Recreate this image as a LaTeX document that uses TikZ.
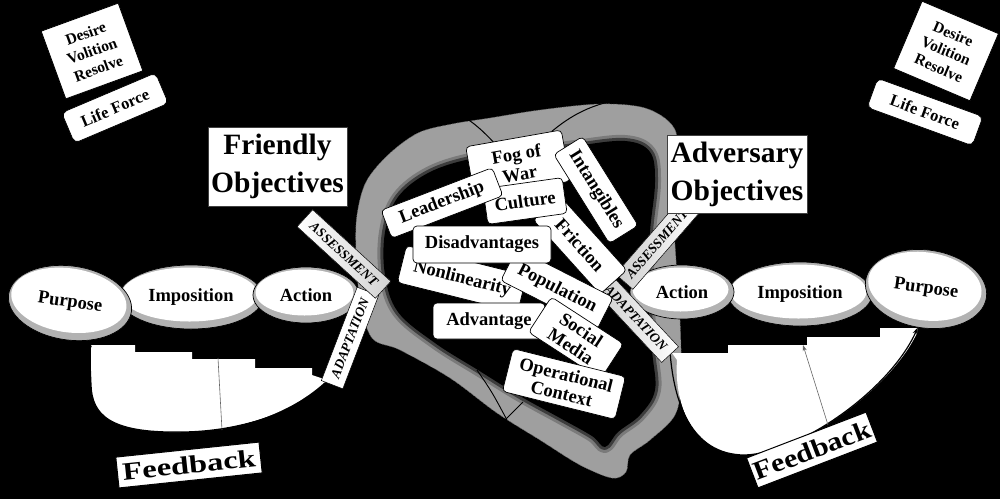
\documentclass[tikz,border=0pt]{standalone}
\usepackage{fontspec}
\setmainfont{Liberation Serif}
\usetikzlibrary{shapes.geometric,arrows.meta}

\newcommand\EllBack[5]{%
  \fill[gray!60, rotate around={#5:(#1,#2)}] (#1,#2) ellipse [x radius=#3, y radius=#4];
  \fill[white, rotate around={#5:(#1,#2)}] (#1-1.5,#2-2.5) ellipse [x radius=#3-4, y radius=#4-5];}

\newcommand\OuterBlob[1]{\path[#1] plot[smooth cycle, tension=0.55] coordinates {(357,215) (366,182) (388,155) (418,133) (452,124) (490,118) (540,110) (600,104) (645,108) (672,125) (678,150) (673,200) (676,260) (680,320) (681,380) (675,415) (650,440) (630,455) (626,472) (612,478) (580,465) (540,440) (497,413) (450,378) (400,350) (372,338) (360,300) (356,250)};}

\newcommand\InnerBlob[1]{\path[#1] plot[smooth cycle, tension=0.6] coordinates {(385,232) (398,197) (430,172) (475,158) (525,153) (575,146) (625,141) (650,152) (655,182) (650,232) (648,290) (652,350) (655,390) (640,415) (618,432) (605,447) (592,436) (560,418) (520,396) (478,370) (435,343) (398,312) (385,275)};}

\begin{document}
\begin{tikzpicture}[x=1pt,y=-1pt,
  cbox/.style={draw=black, line width=0.7pt, fill=white, rounded corners=4pt, inner sep=0pt, align=center, font=\fontsize{18.5}{19.5}\selectfont\bfseries},
  sqbox/.style={draw=black, line width=0.8pt, fill=white, inner sep=0pt, align=center},
  strip/.style={draw=black, line width=0.5pt, fill=white, inner sep=0pt, minimum height=23pt, font=\fontsize{13.5}{14}\selectfont\bfseries\itshape},
  ellnode/.style={ellipse, draw=black, line width=0.7pt, inner sep=0pt, font=\fontsize{18.5}{19}\selectfont\bfseries},
  fbline/.style={draw=black, line width=1.2pt},
  thinline/.style={draw=black!60, line width=0.6pt},
  objfont/.style={font=\fontsize{29.5}{38}\selectfont\bfseries},
]
\fill[black] (0,0) rectangle (1000,499);
\useasboundingbox (0,0) rectangle (1000,499);

% central blob
\OuterBlob{fill=gray!75}
\InnerBlob{draw=black!52, line width=12pt, line join=round}
\InnerBlob{draw=black!76, line width=6pt, line join=round}
\InnerBlob{fill=black}
\OuterBlob{draw=black!60, line width=0.5pt, dash pattern=on 1.5pt off 1pt}
\draw[black, line width=1pt] (458,112) .. controls (480,128) .. (503,152);
\draw[black, line width=1pt] (540,142) .. controls (565,118) and (585,108) .. (608,102);
\draw[black, line width=0.9pt] (477,370) .. controls (492,392) .. (507,420);
\draw[black, line width=0.8pt] (523,402) -- (505,420);

% feedback white regions
\fill[white] (91,345) -| (135,352) -| (192,359) -| (255,368) -| (312,375) -- (327,380)
  .. controls (290,415) and (235,432) .. (180,432) .. controls (110,433) and (92,415) .. (91,385) -- cycle;
\fill[white] (918,328) -| (880,337) -| (807,345) -| (728,353) -- (672,353) -- (677,360)
  .. controls (674,400) and (690,455) .. (745,455) .. controls (800,453) and (890,390) .. (917,333) -- cycle;

% left ellipses
\EllBack{191}{297}{72}{32}{0}
\node[ellnode, minimum width=144pt, minimum height=64pt] (impL) at (191,297) {Imposition};
\EllBack{70}{303}{62}{37}{-8}
\node[ellnode, minimum width=124pt, minimum height=74pt, rotate=-8] (purL) at (70,303) {Purpose};
\EllBack{306}{295}{53}{28}{0}
\node[ellnode, minimum width=106pt, minimum height=56pt] (actL) at (306,295) {Action};

% right ellipses
\EllBack{800}{294}{72}{32}{0}
\node[ellnode, minimum width=144pt, minimum height=64pt] (impR) at (800,294) {Imposition};
\EllBack{682}{292}{52}{27}{0}
\node[ellnode, minimum width=104pt, minimum height=54pt] (actR) at (682,292) {Action};
\EllBack{926}{289}{61}{39}{-8}
\node[ellnode, minimum width=122pt, minimum height=78pt, rotate=-8] (purR) at (926,289) {Purpose};

% strips
\node[strip, minimum width=100pt, rotate=69] (adL) at (350,338) {ADAPTATION};
\node[strip, left color=white, right color=gray!35, minimum width=106pt, rotate=-42.5] (asL) at (344,254) {ASSESSMENT};
\node[strip, left color=gray!40, right color=white, minimum width=100pt, rotate=-47] (adR) at (636,318) {ADAPTATION};
\node[strip, left color=gray!40, right color=white, minimum width=100pt, rotate=49] (asR) at (657,244) {ASSESSMENT};

% feedback connectors
\draw[fbline, -{Stealth[length=7pt,width=5pt]}] (adL.west) .. controls (290,415) and (235,432) .. (180,432)
  .. controls (110,433) and (92,415) .. (91,385) -- (purL.-55);
\draw[fbline, -{Stealth[length=7pt,width=5pt]}] (adR.east) .. controls (674,400) and (690,455) .. (745,455)
  .. controls (800,453) and (890,390) .. (purR.-94);
\coordinate (fbLtop) at (218,358);
\coordinate (fbLbot) at (222,430);
\draw[thinline] (fbLtop) -- (fbLbot);
\coordinate (fbRbot) at (828,425);
\coordinate (fbRtop) at (803,345);
\draw[thinline, -{Stealth[length=6pt,width=4pt]}] (fbRbot) -- (fbRtop);

% objectives
\node[sqbox, objfont, draw=black!75, minimum width=139pt, minimum height=79pt] (frObj) at (277.5,166.5)
  {Friendly\\Objectives};
\node[sqbox, objfont, draw=black!75, minimum width=140pt, minimum height=78pt] (advObj) at (737,174)
  {Adversary\\Objectives};

% central boxes
\node[cbox, minimum width=97pt, minimum height=52pt, rotate=10, font=\fontsize{18.5}{20}\selectfont\bfseries] (fog) at (518,164) {Fog of\\War};
\node[cbox, minimum width=100pt, minimum height=36pt, rotate=-48] (fric) at (580,245) {Friction};
\node[cbox, minimum width=105pt, minimum height=34pt, rotate=-58] (intang) at (596,190) {Intangibles};
\node[cbox, minimum width=80pt, minimum height=36pt, rotate=8] (cult) at (525,201) {Culture};
\node[cbox, minimum width=119pt, minimum height=30pt, rotate=21] (lead) at (442,203) {Leadership};
\node[cbox, minimum width=124pt, minimum height=38pt, rotate=-14] (nonlin) at (462,279) {Nonlinearity};
\node[cbox, minimum width=108pt, minimum height=36pt, rotate=-27] (popul) at (557,289) {Population};
\node[cbox, minimum width=138pt, minimum height=37pt] (disadv) at (482,244.5) {Disadvantages};
\node[cbox, minimum width=112pt, minimum height=36pt] (adv) at (489,321) {Advantage};
\node[cbox, minimum width=86pt, minimum height=42pt, rotate=-33] (social) at (576,338) {Social\\Media};
\node[cbox, minimum width=116pt, minimum height=44pt, rotate=-14] (opctx) at (564,384) {Operational\\Context};

% will boxes
\node[sqbox, minimum width=82pt, minimum height=72pt, rotate=20, font=\fontsize{15.5}{18.5}\selectfont\bfseries] (dvrL) at (92,51) {Desire\\Volition\\Resolve};
\node[cbox, minimum width=102pt, minimum height=33pt, rotate=23, rounded corners=5pt, font=\fontsize{16.5}{18}\selectfont\bfseries] (lfL) at (115,108) {Life Force};
\node[sqbox, minimum width=83pt, minimum height=73pt, rotate=-23, font=\fontsize{15.5}{18.5}\selectfont\bfseries] (dvrR) at (946,51) {Desire\\Volition\\Resolve};
\node[cbox, minimum width=112pt, minimum height=31pt, rotate=-20, rounded corners=5pt, font=\fontsize{16.5}{18}\selectfont\bfseries] (lfR) at (925,112) {Life Force};

% feedback labels
\node[sqbox, line width=1pt, minimum width=144pt, minimum height=31pt, rotate=6] (fbL) at (189,465)
  {\scalebox{1.3}[1]{\fontsize{25}{25}\selectfont\bfseries Feedback}};
\node[sqbox, line width=1pt, minimum width=128pt, minimum height=32pt, rotate=21] (fbR) at (812,450)
  {\scalebox{1.15}[1]{\fontsize{26}{26}\selectfont\bfseries Feedback}};
\end{tikzpicture}
\end{document}
